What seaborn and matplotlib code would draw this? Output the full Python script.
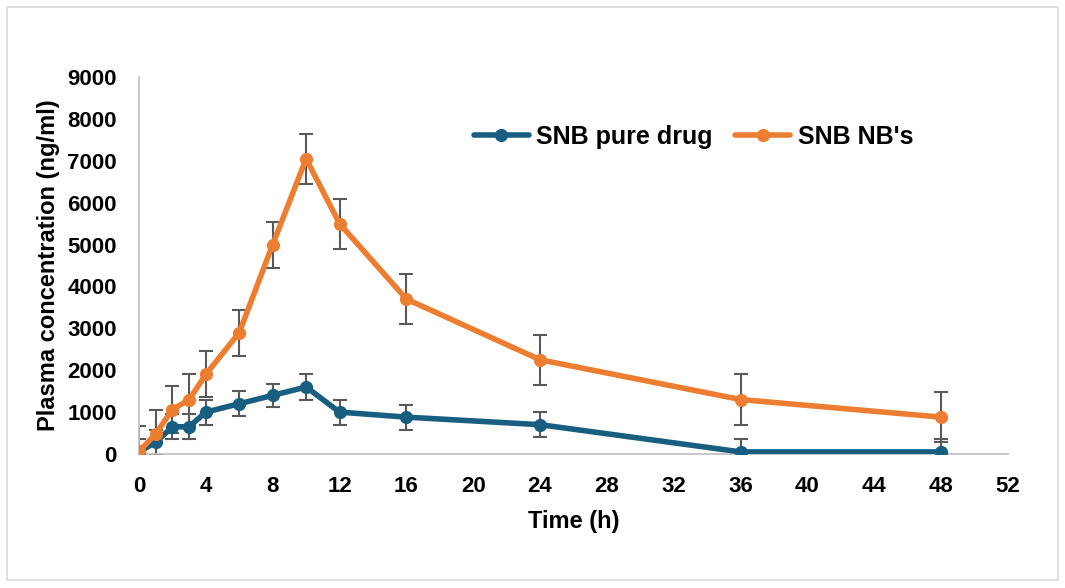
import matplotlib
matplotlib.use("Agg")
import matplotlib.pyplot as plt
import matplotlib.patches as patches
import numpy as np
import pandas as pd
import seaborn as sns

# sampling times (h)
time_h = [0, 1, 2, 3, 4, 6, 8, 10, 12, 16, 24, 36, 48]

# plasma concentration (ng/ml)
pure_drug = [50, 280, 650, 650, 1000, 1200, 1400, 1600, 1000, 880, 700, 50, 50]
pure_err = [300, 300, 300, 300, 300, 300, 280, 300, 300, 300, 300, 300, 300]
nbs = [60, 480, 1060, 1300, 1900, 2900, 5000, 7050, 5500, 3700, 2250, 1300, 880]
nbs_err = [600, 570, 560, 600, 550, 550, 550, 600, 600, 600, 600, 600, 600]

series_names = ["SNB pure drug", "SNB NB's"]
colors = ["#175E80", "#ED7D31"]

df = pd.DataFrame({
    "time": time_h * 2,
    "conc": pure_drug + nbs,
    "group": [series_names[0]] * len(time_h) + [series_names[1]] * len(time_h),
})

sns.set_style("white")
plt.rcParams["font.family"] = ["Liberation Sans", "DejaVu Sans"]
plt.rcParams["text.color"] = "black"

fig = plt.figure(figsize=(10.65, 5.88), dpi=100)
ax = fig.add_axes([0.1305, 0.2279, 0.816, 0.641])

# error bars first so the lines sit on top
for vals, errs in [(pure_drug, pure_err), (nbs, nbs_err)]:
    ax.errorbar(time_h, vals, yerr=errs, fmt="none", ecolor="#595959",
                elinewidth=1.5, capsize=5, capthick=1.5, zorder=1)

sns.lineplot(data=df, x="time", y="conc", hue="group", palette=colors,
             marker="o", markersize=9.5, markeredgewidth=0, linewidth=4,
             ax=ax, zorder=3)

ax.set_xlim(0, 52)
ax.set_ylim(0, 9000)
ax.set_xticks(range(0, 53, 4))
ax.set_yticks(range(0, 9001, 1000))
ax.tick_params(axis="both", length=0, labelsize=16, pad=16, labelcolor="black")
for lbl in ax.get_xticklabels() + ax.get_yticklabels():
    lbl.set_fontweight("bold")

for side in ["top", "right"]:
    ax.spines[side].set_visible(False)
for side in ["left", "bottom"]:
    ax.spines[side].set_color("#BFBFBF")
    ax.spines[side].set_linewidth(1.2)

ax.set_xlabel("Time (h)", fontsize=17, fontweight="bold", labelpad=9, color="black")
ax.set_ylabel("Plasma concentration (ng/ml)", fontsize=17, fontweight="bold",
              labelpad=5, color="black")

ax.legend(loc="center left", bbox_to_anchor=(0.445, 0.767), bbox_transform=fig.transFigure,
          ncol=2, frameon=False, borderpad=0, borderaxespad=0,
          prop={"weight": "bold", "size": 18}, handlelength=2.2, handletextpad=0.3,
          columnspacing=0.9)

# outer chart border
fig.patches.append(patches.Rectangle((0.007, 0.013), 0.986, 0.975, transform=fig.transFigure,
                                     fill=False, edgecolor="#D9D9D9", linewidth=1.2))

fig.savefig("out.png", dpi=100)
